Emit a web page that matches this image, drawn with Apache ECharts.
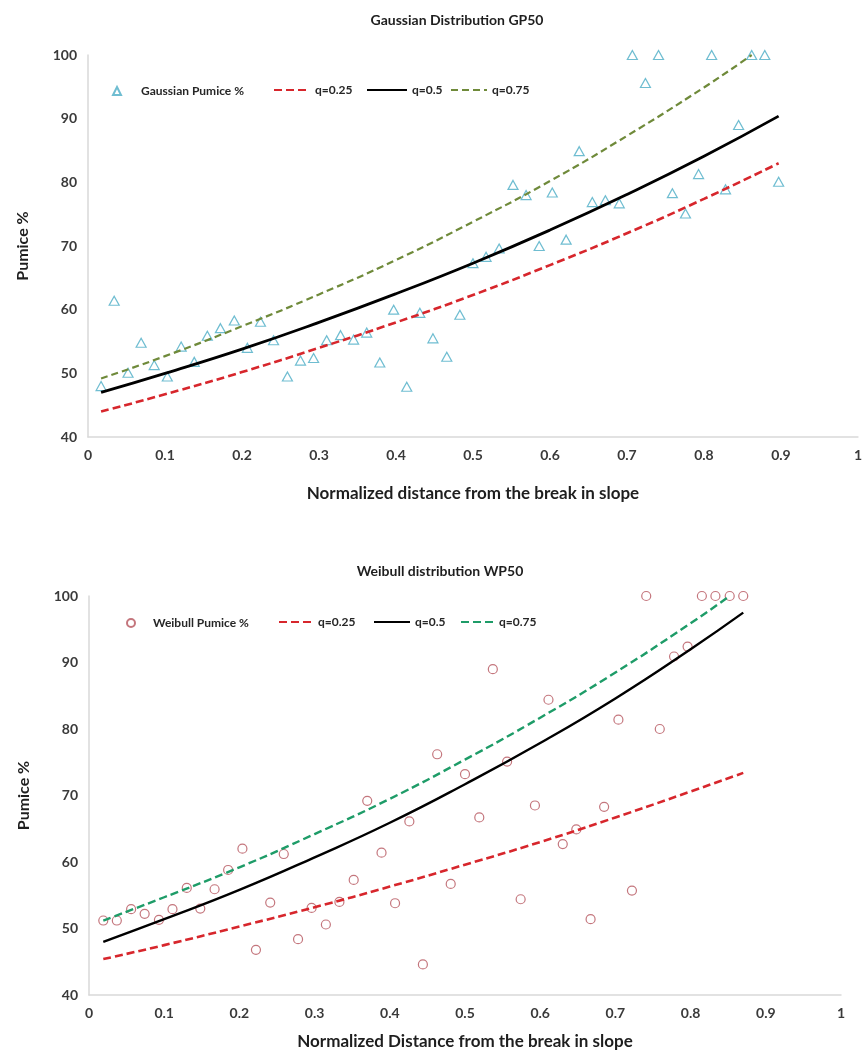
<!DOCTYPE html>
<html>
<head>
<meta charset="utf-8">
<script src="https://cdn.jsdelivr.net/npm/echarts@6/dist/echarts.min.js"></script>
<style>
html,body{margin:0;padding:0;background:#fff;}
#chart{width:865px;height:1054px;}
</style>
</head>
<body>
<div id="chart"></div>
<script>
// ---- Top chart: Gaussian Distribution GP50 ----
const xTop = [0.017,0.034,0.052,0.069,0.086,0.103,0.121,0.138,0.155,0.172,0.190,0.207,0.224,0.241,0.259,0.276,0.293,0.310,0.328,0.345,0.362,0.379,0.397,0.414,0.431,0.448,0.466,0.483,0.500,0.517,0.534,0.552,0.569,0.586,0.603,0.621,0.638,0.655,0.672,0.690,0.707,0.724,0.741,0.759,0.776,0.793,0.810,0.828,0.845,0.862,0.879,0.897];
const gaussPumice = [48.0,61.4,50.1,54.8,51.3,49.5,54.2,51.8,55.9,57.1,58.3,54.0,58.1,55.2,49.5,52.0,52.4,55.2,56.0,55.3,56.4,51.7,60.0,47.9,59.5,55.5,52.6,59.2,67.3,68.3,69.6,79.6,78.0,70.0,78.4,71.0,84.9,76.9,77.2,76.7,100,95.6,100,78.3,75.1,81.3,100,78.9,89.0,100,100,80.1];
const xTopLine = [0.017,0.1,0.2,0.3,0.4,0.5,0.6,0.7,0.8,0.897];
const gQ25 = [44.0,46.7,50.2,54.0,58.0,62.3,67.0,72.0,77.4,83.0];
const gQ50 = [47.0,50.0,53.8,58.0,62.5,67.3,72.5,78.1,84.1,90.4];
const xTopQ75 = [0.017,0.1,0.2,0.3,0.4,0.5,0.6,0.7,0.8,0.862];
const gQ75 = [49.2,52.7,57.4,62.4,67.8,73.8,80.2,87.3,94.9,100];

// ---- Bottom chart: Weibull distribution WP50 ----
const xBot = [0.019,0.037,0.056,0.074,0.093,0.111,0.130,0.148,0.167,0.185,0.204,0.222,0.241,0.259,0.278,0.296,0.315,0.333,0.352,0.370,0.389,0.407,0.426,0.444,0.463,0.481,0.500,0.519,0.537,0.556,0.574,0.593,0.611,0.630,0.648,0.667,0.685,0.704,0.722,0.741,0.759,0.778,0.796,0.815,0.833,0.852,0.870];
const weibullPumice = [51.2,51.2,52.9,52.2,51.3,52.9,56.1,53.0,55.9,58.8,62.0,46.8,53.9,61.2,48.4,53.1,50.6,54.0,57.3,69.2,61.4,53.8,66.1,44.6,76.2,56.7,73.2,66.7,89.0,75.1,54.4,68.5,84.4,62.7,64.9,51.4,68.3,81.4,55.7,100,80.0,90.9,92.4,100,100,100,100];
const xBotLine = [0.019,0.1,0.2,0.3,0.4,0.5,0.6,0.7,0.8,0.870];
const wQ25 = [45.4,47.5,50.3,53.2,56.3,59.6,63.0,66.7,70.6,73.4];
const wQ50 = [48.0,51.4,55.8,60.7,65.9,71.7,77.9,84.6,92.0,97.5];
const xBotQ75 = [0.019,0.1,0.2,0.3,0.4,0.5,0.6,0.7,0.8,0.852];
const wQ75 = [51.2,54.7,59.2,64.2,69.5,75.4,81.7,88.5,95.9,100];

const titles = ['Gaussian Distribution GP50','Weibull distribution WP50'];
const xNames = ['Normalized distance from the break in slope','Normalized Distance from the break in slope'];
const yName = 'Pumice %';

const FONT = 'Lato';
const pair = (xs, ys) => xs.map((x, i) => [x, ys[i]]);

const chart = echarts.init(document.getElementById('chart'), null, {renderer:'canvas'});

function xAxisCfg(gi, name, gap){
  return {
    gridIndex: gi, type:'value', min:0, max:1, interval:0.1,
    axisLine:{show:true, lineStyle:{color:'#d9d9d9', width:1.5}},
    axisTick:{show:false}, splitLine:{show:false},
    axisLabel:{fontFamily:FONT, fontSize:14, fontWeight:'bold', color:'#3a3a3a', margin:11},
    name:name, nameLocation:'middle', nameGap:gap,
    nameTextStyle:{fontFamily:FONT, fontSize:17, fontWeight:'bold', color:'#1e1e1e'}
  };
}
function yAxisCfg(gi){
  return {
    gridIndex: gi, type:'value', min:40, max:100, interval:10,
    axisLine:{show:true, lineStyle:{color:'#d9d9d9', width:1.5}},
    axisTick:{show:false}, splitLine:{show:false},
    axisLabel:{fontFamily:FONT, fontSize:14, fontWeight:'bold', color:'#3a3a3a', margin:11},
    name:yName, nameLocation:'middle', nameGap:57, nameRotate:90,
    nameTextStyle:{fontFamily:FONT, fontSize:16, fontWeight:'bold', color:'#1e1e1e'}
  };
}
function legendCfg(name, left, top, w, pad, isMarker){
  const cfg = {
    data:[name], left:left, top:top, padding:0, itemWidth:w, itemHeight:isMarker ? 8 : 10,
    selectedMode:false,
    formatter: n => n.replace(/^W /, ''),
    textStyle:{fontFamily:FONT, fontSize:12, fontWeight:'bold', color:'#262626', padding:[0,0,0,pad||0]}
  };
  if (!isMarker) {
    cfg.itemStyle = {color:'rgba(0,0,0,0)', borderColor:'rgba(0,0,0,0)', borderWidth:0, opacity:0};
  }
  return cfg;
}
function lineSeries(name, gi, data, color, width, dash){
  return {
    type:'line', name:name, xAxisIndex:gi, yAxisIndex:gi, smooth:true, symbol:'none',
    data:data, z:3,
    lineStyle:{color:color, width:width, type:dash || 'solid'},
    itemStyle:{color:color}
  };
}

const option = {
  animation:false,
  backgroundColor:'#ffffff',
  textStyle:{fontFamily:FONT},
  graphic:[
    {type:'text', x:457, y:20, style:{text:titles[0], align:'center', verticalAlign:'middle', fontFamily:FONT, fontSize:14, fontWeight:'bold', fill:'#1e1e1e'}},
    {type:'text', x:440, y:571, style:{text:titles[1], align:'center', verticalAlign:'middle', fontFamily:FONT, fontSize:14, fontWeight:'bold', fill:'#1e1e1e'}}
  ],
  grid:[
    {left:88, top:55, width:775, height:382},
    {left:89, top:596, width:752, height:399}
  ],
  xAxis:[xAxisCfg(0, xNames[0], 48), xAxisCfg(1, xNames[1], 38)],
  yAxis:[yAxisCfg(0), yAxisCfg(1)],
  legend:[
    legendCfg('Gaussian Pumice %', 112, 85, 8, 15, true),
    legendCfg('q=0.25', 273, 84, 36),
    legendCfg('q=0.5', 366, 84, 40),
    legendCfg('q=0.75', 450, 84, 36),
    legendCfg('Weibull Pumice %', 126, 617, 8, 13, true),
    legendCfg('W q=0.25', 278, 616, 34),
    legendCfg('W q=0.5', 373, 616, 36),
    legendCfg('W q=0.75', 460, 616, 33)
  ],
  series:[
    {type:'scatter', name:'Gaussian Pumice %', xAxisIndex:0, yAxisIndex:0,
     symbol:'triangle', symbolSize:[10,9], z:2,
     itemStyle:{color:'rgba(255,255,255,0)', borderColor:'#4bacc6', borderWidth:1.2},
     data:pair(xTop, gaussPumice)},
    lineSeries('q=0.25', 0, pair(xTopLine, gQ25), '#d7262c', 2.6, [8,4]),
    lineSeries('q=0.5', 0, pair(xTopLine, gQ50), '#000000', 2.8),
    lineSeries('q=0.75', 0, pair(xTopQ75, gQ75), '#6f8a3a', 2.2, [7,4]),
    {type:'scatter', name:'Weibull Pumice %', xAxisIndex:1, yAxisIndex:1,
     symbol:'circle', symbolSize:9, z:2,
     itemStyle:{color:'rgba(255,255,255,0)', borderColor:'#b5545c', borderWidth:1.2},
     data:pair(xBot, weibullPumice)},
    lineSeries('W q=0.25', 1, pair(xBotLine, wQ25), '#d7262c', 2.6, [8,4]),
    lineSeries('W q=0.5', 1, pair(xBotLine, wQ50), '#000000', 2.4),
    lineSeries('W q=0.75', 1, pair(xBotQ75, wQ75), '#1e9c68', 2.4, [8,4])
  ]
};
chart.setOption(option);
</script>
</body>
</html>
